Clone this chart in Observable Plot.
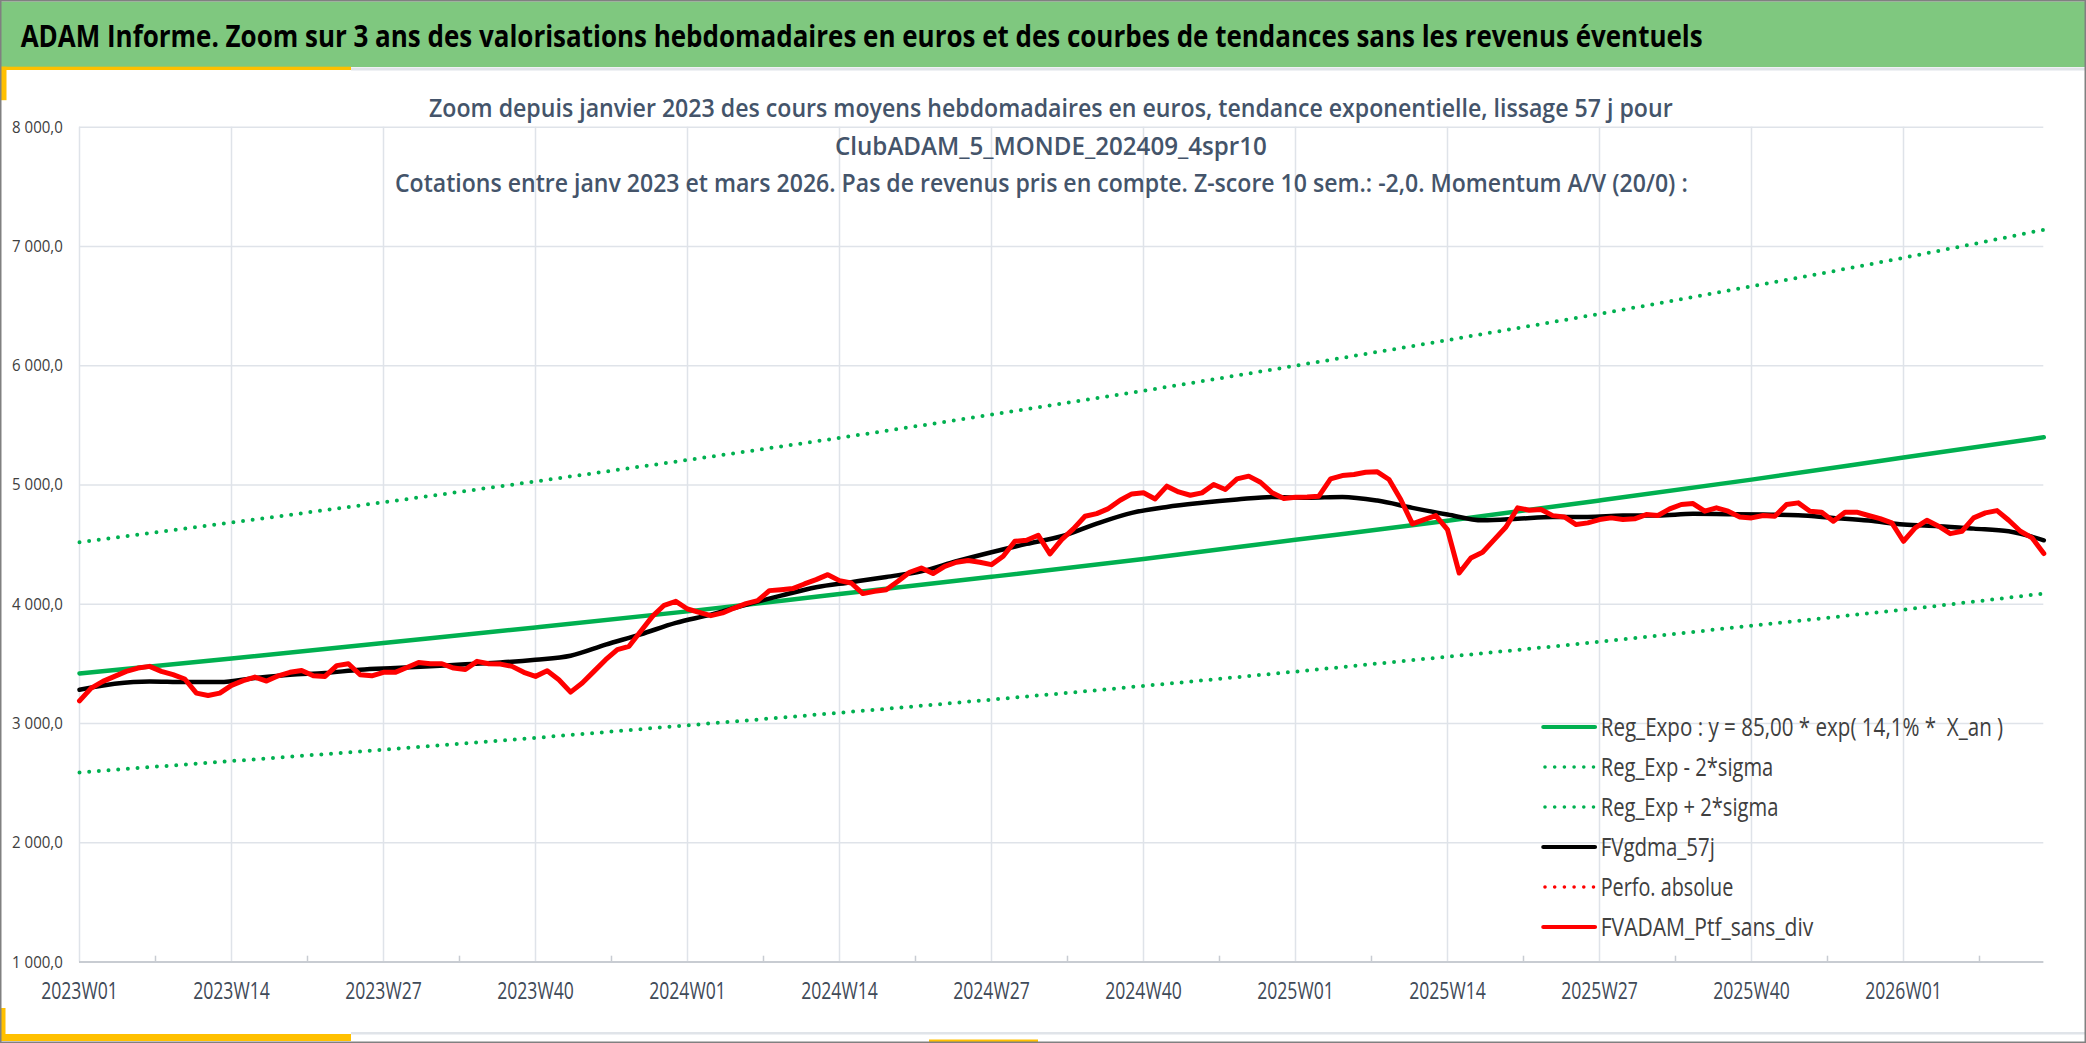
<!DOCTYPE html>
<html><head><meta charset="utf-8">
<script src="https://cdn.jsdelivr.net/npm/d3@7"></script>
<script src="https://cdn.jsdelivr.net/npm/@observablehq/plot@0.6"></script>
<style>
html,body{margin:0;padding:0;background:#fff;}
#wrap{position:relative;width:2086px;height:1043px;overflow:hidden;background:#fff;font-family:"Open Sans",sans-serif;}
#chart{position:absolute;left:0;top:0;}
#overlay{position:absolute;left:0;top:0;pointer-events:none;}
</style></head><body>
<div id="wrap"><div id="chart"></div><svg id="overlay" width="2086" height="1043"></svg></div>
<script>
// ---------- DATA ----------
const years = [2023, 2024, 2025, 2026];
const weeks = [];
for (const yr of years) for (let w = 1; w <= 52; w++) weeks.push(yr + "W" + String(w).padStart(2, "0"));
weeks.length = 169; // 2023W01 .. 2026W13

const tickLabels = ["2023W01","2023W14","2023W27","2023W40","2024W01","2024W14","2024W27","2024W40","2025W01","2025W14","2025W27","2025W40","2026W01"];
const yTicks = [1000, 2000, 3000, 4000, 5000, 6000, 7000, 8000];

// FVADAM_Ptf_sans_div (weekly, 2023W01 .. 2026W13)
const ptf = [
  3190, 3297, 3353, 3395, 3437, 3465, 3479, 3437, 3409, 3373, 3255, 3235, 3255,
  3320, 3359, 3389, 3356, 3400, 3429, 3445, 3400, 3395, 3485, 3501, 3409, 3400,
  3429, 3429, 3470, 3512, 3501, 3501, 3465, 3453, 3521, 3501, 3498, 3479, 3429,
  3395, 3442, 3367, 3263, 3339, 3437, 3535, 3619, 3647, 3773, 3898, 3991, 4024,
  3960, 3932, 3904, 3927, 3968, 4005, 4030, 4114, 4122, 4131, 4170, 4206, 4248,
  4198, 4178, 4089, 4108, 4122, 4192, 4268, 4304, 4257, 4318, 4352, 4366, 4352,
  4332, 4402, 4528, 4536, 4578, 4422, 4542, 4632, 4738, 4760, 4802, 4872, 4925,
  4934, 4883, 4990, 4942, 4914, 4934, 5004, 4962, 5051, 5074, 5023, 4934, 4886,
  4897, 4900, 4906, 5051, 5079, 5088, 5107, 5110, 5046, 4878, 4674, 4710, 4743,
  4626, 4262, 4388, 4436, 4542, 4648, 4808, 4788, 4794, 4743, 4732, 4668, 4682,
  4710, 4724, 4710, 4716, 4752, 4744, 4799, 4836, 4844, 4780, 4808, 4780, 4732,
  4724, 4744, 4738, 4836, 4850, 4780, 4772, 4696, 4772, 4772, 4744, 4718, 4682,
  4528, 4640, 4704, 4654, 4592, 4612, 4724, 4766, 4785, 4704, 4612, 4556, 4425
];

// FVgdma_57j, read every 3rd week
const smaWeeks = weeks.filter((_, i) => i % 3 === 0);
const sma = [
  3283, 3333, 3353, 3347, 3347,
  3381, 3409, 3423, 3451, 3465,
  3479, 3497, 3512, 3535, 3568,
  3661, 3748, 3843, 3913, 3996,
  4072, 4142, 4185, 4229, 4276,
  4360, 4436, 4506, 4570, 4676,
  4766, 4816, 4850, 4878, 4900,
  4892, 4900, 4869, 4808, 4752,
  4704, 4716, 4732, 4732, 4743,
  4744, 4758, 4755, 4752, 4746,
  4724, 4702, 4668, 4654, 4634,
  4612, 4536
];

// Trend curves, read at the labelled weeks and at the last week
const trendWeeks = [...tickLabels, "2026W13"];
const regExpo  = [3420, 3545, 3675, 3805, 3940, 4085, 4230, 4380, 4540, 4700, 4870, 5045, 5230, 5400];
const regMinus = [2590, 2685, 2780, 2880, 2985, 3090, 3200, 3315, 3435, 3560, 3685, 3820, 3955, 4090];
const regPlus  = [4520, 4685, 4855, 5030, 5210, 5395, 5590, 5790, 6000, 6215, 6435, 6665, 6905, 7140];

// Texts
const title = "ADAM Informe. Zoom sur 3 ans des valorisations hebdomadaires en euros et des courbes de tendances sans les revenus éventuels";
const subtitles = [
  "Zoom depuis janvier 2023 des cours moyens hebdomadaires en euros, tendance exponentielle, lissage 57 j pour",
  "ClubADAM_5_MONDE_202409_4spr10",
  "Cotations entre janv 2023 et mars 2026. Pas de revenus pris en compte. Z-score 10 sem.: -2,0. Momentum A/V (20/0) :"
];
const legendLabels = ["Reg_Expo : y = 85,00 * exp( 14,1% *\u00a0 X_an )", "Reg_Exp - 2*sigma", "Reg_Exp + 2*sigma", "FVgdma_57j", "Perfo. absolue", "FVADAM_Ptf_sans_div"];
const legendColors = ["#00b050", "#00b050", "#00b050", "#000000", "#ff0000", "#ff0000"];
const legendDotted = [false, true, true, false, true, false];

// ---------- BUILD ----------
const idx = w => weeks.indexOf(w);
const ptfRows = ptf.map((v, i) => ({x: i, v}));
const smaRows = sma.map((v, k) => ({x: idx(smaWeeks[k]), v}));
const trendRows = arr => arr.map((v, k) => ({x: idx(trendWeeks[k]), v}));
const xTickIdx = tickLabels.map(idx);
const minorIdx = xTickIdx.map(i => i + 6.5);

const loc = d3.formatLocale({decimal: ",", thousands: " ", grouping: [3], currency: ["", " €"]});
const fmtY = loc.format(",.1f");

const GREEN = "#00b050", RED = "#ff0000", GRID = "#dfe3e9";

const chart = Plot.plot({
  width: 2086, height: 1043,
  marginTop: 126.7, marginBottom: 81.5, marginLeft: 79, marginRight: 42.7,
  style: {background: "transparent", fontFamily: "Open Sans, sans-serif", overflow: "visible"},
  x: {type: "linear", domain: [0, 168]},
  y: {domain: [1000, 8000]},
  marks: [
    Plot.gridY(yTicks, {stroke: GRID, strokeOpacity: 1, strokeWidth: 1.5}),
    Plot.gridX(xTickIdx, {stroke: GRID, strokeOpacity: 1, strokeWidth: 1.5}),
    Plot.ruleX(minorIdx, {x: d => d, stroke: "#c8ccd2", strokeWidth: 1.5, insetTop: 829}),
    Plot.ruleY([1000], {stroke: "#c8ccd2", strokeWidth: 2}),
    Plot.axisY(yTicks, {tickSize: 0, tickPadding: 16.7, fontSize: 17.2, fill: "#404040", tickFormat: fmtY, label: null}),
    Plot.axisX(xTickIdx, {tickSize: 0, tickPadding: 20.2, fontSize: 23.4, fill: "#3f4a58", tickFormat: i => weeks[i], label: null}),
    Plot.line(trendRows(regExpo), {x: "x", y: "v", stroke: GREEN, strokeWidth: 4.5, curve: "monotone-x"}),
    Plot.line(trendRows(regMinus), {x: "x", y: "v", stroke: GREEN, strokeWidth: 4, strokeDasharray: "0 9.7", strokeLinecap: "round", curve: "monotone-x"}),
    Plot.line(trendRows(regPlus), {x: "x", y: "v", stroke: GREEN, strokeWidth: 4, strokeDasharray: "0 9.7", strokeLinecap: "round", curve: "monotone-x"}),
    Plot.line(smaRows, {x: "x", y: "v", stroke: "#000", strokeWidth: 4.5, curve: "monotone-x", strokeLinejoin: "round"}),
    Plot.line(ptfRows, {x: "x", y: "v", stroke: RED, strokeWidth: 5, strokeLinejoin: "round", strokeLinecap: "round"})
  ]
});
document.getElementById("chart").appendChild(chart);

// horizontal squeeze of a tick label around its anchor point (Calibri-like narrow look)
function squash(t, s) {
  const tr = t.getAttribute("transform") || "";
  t.setAttribute("transform", `${tr} scale(${s},1)`.trim());
}
chart.querySelectorAll('g[aria-label="y-axis tick label"] text').forEach(t => squash(t, 0.874));
chart.querySelectorAll('g[aria-label="x-axis tick label"] text').forEach(t => squash(t, 0.753));

// fit a text to a target width by squeezing it horizontally
function fitText(sel, x, y, width) {
  const n = sel.node();
  const L = n.getComputedTextLength();
  const s = L > 0 ? width / L : 1;
  sel.attr("x", null).attr("y", null).attr("transform", `translate(${x},${y}) scale(${s.toFixed(4)},1)`);
}

// ---------- OVERLAY (frame, title, subtitle, legend) ----------
const ov = d3.select("#overlay");
ov.append("rect").attr("x", 1).attr("y", 1.5).attr("width", 2084).attr("height", 65.5).attr("fill", "#7fc87f");
ov.append("rect").attr("x", 351).attr("y", 67.5).attr("width", 1735).attr("height", 3).attr("fill", "#e0e4e9");
ov.append("rect").attr("x", 0).attr("y", 66.7).attr("width", 351).attr("height", 3.3).attr("fill", "#ffc000");
ov.append("rect").attr("x", 0).attr("y", 66.7).attr("width", 6.5).attr("height", 33.5).attr("fill", "#ffc000");
ov.append("rect").attr("x", 351).attr("y", 1032).attr("width", 1735).attr("height", 2.5).attr("fill", "#e0e4e9");
ov.append("rect").attr("x", 0).attr("y", 1034).attr("width", 351).attr("height", 7).attr("fill", "#ffc000");
ov.append("rect").attr("x", 0).attr("y", 1008).attr("width", 5.5).attr("height", 33).attr("fill", "#ffc000");
ov.append("rect").attr("x", 929).attr("y", 1039.5).attr("width", 109).attr("height", 3).attr("fill", "#ffc000");
ov.append("rect").attr("x", 0.75).attr("y", 0.75).attr("width", 2084.5).attr("height", 1041.5).attr("fill", "none").attr("stroke", "#808080").attr("stroke-width", 1.5);

const tt = ov.append("text").text(title)
  .attr("font-family", "Open Sans").attr("font-weight", 700).attr("font-size", 30).attr("fill", "#000");
fitText(tt, 20.7, 47.3, 1683);

const subX = [429, 835, 395], subY = [116.7, 155, 191.7], subW = [1244, 432, 1293];
subtitles.forEach((s, k) => {
  const st = ov.append("text").text(s)
    .attr("font-family", "Open Sans").attr("font-weight", 600).attr("font-size", 25.6).attr("fill", "#44546a");
  fitText(st, subX[k], subY[k], subW[k]);
});

const legW = [402.7, 172.7, 177.7, 114.3, 132.7, 212.7];
legendLabels.forEach((s, k) => {
  const cy = 727 + 40 * k;
  const ln = ov.append("line").attr("x1", legendDotted[k] ? 1545 : 1543.3).attr("x2", legendDotted[k] ? 1594 : 1595)
    .attr("y1", cy).attr("y2", cy).attr("stroke", legendColors[k]).attr("stroke-linecap", "round");
  if (legendDotted[k]) ln.attr("stroke-width", 3.6).attr("stroke-dasharray", "0 9.7");
  else ln.attr("stroke-width", 4.2);
  const lt = ov.append("text").text(s)
    .attr("font-family", "Open Sans").attr("font-size", 26).attr("fill", "#404040");
  fitText(lt, 1600.7, cy + 8.5, legW[k]);
});
</script>
</body></html>
